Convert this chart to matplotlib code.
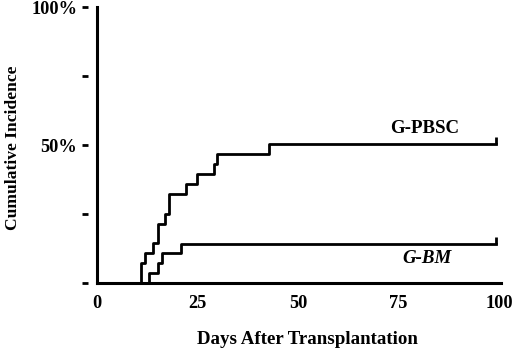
"""Cumulative incidence curves, G-PBSC vs G-BM."""

import matplotlib

matplotlib.use("Agg")
import matplotlib.pyplot as plt
from matplotlib.ticker import FixedLocator

plt.rcParams["font.family"] = ["Liberation Serif", "DejaVu Serif"]
plt.rcParams["font.weight"] = "bold"

# step curves (day, cumulative incidence %)
pbsc_days = [0, 11.0, 11.9, 14.0, 15.1, 17.0, 17.9, 22.1, 25.0, 29.0, 29.9, 42.8, 99.2]
pbsc_inc = [0, 7.2, 10.8, 14.4, 21.5, 25.1, 32.3, 35.9, 39.5, 43.1, 46.6, 50.3, 50.3]
bm_days = [0, 12.9, 15.1, 16.1, 20.8, 99.2]
bm_inc = [0, 3.7, 7.1, 10.8, 14.1, 14.1]

x_ticks = [0, 25, 50, 75, 100]
y_ticks = [0, 25, 50, 75, 100]
y_labels = ["", "", "50%", "", "100%"]

fig = plt.figure(figsize=(5.2, 3.52), dpi=100)
fig.patch.set_facecolor("white")
ax = fig.add_axes([97 / 520, 1 - 283 / 352, 404 / 520, 276 / 352])

lw = 2.0
ax.step(pbsc_days, pbsc_inc, where="post", color="black", lw=lw, clip_on=False)
ax.step(bm_days, bm_inc, where="post", color="black", lw=lw, clip_on=False)
# censor ticks at the end of follow-up
ax.plot(pbsc_days[-1], pbsc_inc[-1], marker=2, ms=5, mew=lw, color="black", clip_on=False)
ax.plot(bm_days[-1], bm_inc[-1], marker=2, ms=5, mew=lw, color="black", clip_on=False)

ax.set_xlim(0, 100.5)
ax.set_ylim(0, 100)

# y axis line at x=0, detached tick dashes further left
ax.spines["top"].set_visible(False)
ax.spines["right"].set_position(("data", 0))
ax.spines["right"].set_linewidth(2.2)
ax.spines["bottom"].set_linewidth(2.2)
ax.spines["left"].set_position(("outward", 6.5))
ax.spines["left"].set_visible(False)
ax.yaxis.set_ticks_position("left")

ax.set_yticks(y_ticks)
ax.set_yticklabels(y_labels)
ax.tick_params(axis="y", direction="out", length=4.3, width=2, pad=3.5, labelsize=13.2)

ax.set_xticks(x_ticks)
ax.set_xticklabels([str(t) for t in x_ticks])
ax.xaxis.set_minor_locator(FixedLocator([0, 100]))
ax.tick_params(axis="x", which="major", length=0, pad=9, labelsize=13.2)
ax.tick_params(axis="x", which="minor", direction="out", length=5, width=2)

ax.text(81.5, 56, "G-PBSC", ha="center", va="center", fontsize=13.6, weight="bold")
ax.text(82, 8.7, "G-BM", ha="center", va="center", fontsize=13.6, weight="bold", style="italic")

fig.text(307 / 520, 1 - 340 / 352, "Days After Transplantation", ha="center", va="center",
         fontsize=13.6, weight="bold")
fig.text(13 / 520, 1 - 148 / 352, "Cumulative Incidence", ha="center", va="center",
         rotation=90, fontsize=12.6, weight="bold")

fig.savefig("out.png", dpi=100, facecolor=fig.get_facecolor())
plt.close(fig)
